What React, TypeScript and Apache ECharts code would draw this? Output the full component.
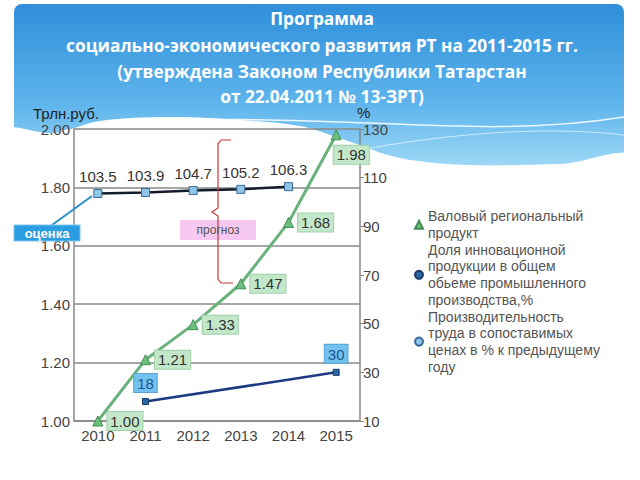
import React, { useEffect, useRef } from "react";
import * as echarts from "echarts";

const titleLines = [
  "Программа",
  "социально-экономического развития РТ на 2011-2015 гг.",
  "(утверждена Законом Республики Татарстан",
  "от 22.04.2011 № 13-ЗРТ)",
];

const categories = ["2010", "2011", "2012", "2013", "2014", "2015"];
const grpValues = [1.0, 1.21, 1.33, 1.47, 1.68, 1.98];
const innovationShare = [null, 18, null, null, null, 30];
const productivity = [103.5, 103.9, 104.7, 105.2, 106.3, null];
const rightTicks = [10, 30, 50, 70, 90, 110, 130];

const seriesNames = [
  "Валовый региональный продукт",
  "Доля инновационной продукции в общем обьеме промышленного производства,%",
  "Производительность труда в сопоставимых ценах в % к предыдущему году",
];
const legendLines = [
  ["Валовый региональный", "продукт"],
  ["Доля инновационной", "продукции в общем", "обьеме промышленного", "производства,%"],
  ["Производительность", "труда в сопоставимых", "ценах в % к предыдущему", "году"],
];

const FONT = "Liberation Sans";

export default function App() {
  const ref = useRef<HTMLDivElement>(null);
  useEffect(() => {
    if (!ref.current) return;
    const chart = echarts.init(ref.current, null, { renderer: "svg" });
    const titleY = [18, 45, 71, 96];
    const titleTexts = titleLines.map((t, i) => ({
      type: "text",
      z: 50,
      x: 322,
      y: titleY[i],
      style: {
        text: t,
        fill: "#ffffff",
        fontFamily: "Open Sans",
        fontWeight: "bold",
        fontSize: 17.3,
        align: "center",
        verticalAlign: "middle",
      },
    }));
    const option: any = {
      animation: false,
      textStyle: { fontFamily: FONT },
      grid: { left: 74, right: 280, top: 129, bottom: 59, containLabel: false },
      legend: {
        orient: "vertical",
        left: 409,
        top: 203,
        itemGap: 0,
        itemWidth: 8,
        itemHeight: 8,
        data: [
          { name: seriesNames[0], icon: "triangle" },
          { name: seriesNames[1], icon: "circle" },
          { name: seriesNames[2], icon: "circle" },
        ],
        formatter: (name: string) => legendLines[seriesNames.indexOf(name)].join("\n"),
        textStyle: { fontSize: 14, lineHeight: 16.7, color: "#555", fontFamily: FONT },
      },
      xAxis: {
        type: "category",
        data: categories,
        boundaryGap: true,
        axisLine: { show: true, lineStyle: { color: "#888", width: 1.5 } },
        axisTick: { show: false },
        axisLabel: { fontSize: 15, color: "#444", margin: 7, fontFamily: FONT },
      },
      yAxis: [
        {
          type: "value",
          min: 1,
          max: 2,
          interval: 0.2,
          axisLine: { show: true, lineStyle: { color: "#888", width: 1.5 } },
          axisTick: { show: false },
          axisLabel: {
            fontSize: 15,
            color: "#444",
            margin: 4,
            formatter: (v: number) => v.toFixed(2),
            fontFamily: FONT,
          },
          splitLine: { show: true, lineStyle: { color: "#888", width: 1.5 } },
        },
        {
          type: "value",
          min: 10,
          max: 130,
          position: "right",
          axisLine: { show: true, lineStyle: { color: "#888", width: 1.5 } },
          axisTick: { show: true, length: 4, customValues: rightTicks, lineStyle: { color: "#888" } },
          axisLabel: {
            fontSize: 15,
            color: "#444",
            margin: 3,
            customValues: rightTicks,
            fontFamily: FONT,
          },
          splitLine: { show: false },
        },
      ],
      series: [
        {
          name: seriesNames[0],
          type: "line",
          yAxisIndex: 0,
          data: grpValues.map((v, i) =>
            i === grpValues.length - 1 ? { value: v, label: { offset: [-12, 20] } } : v
          ),
          symbol: "triangle",
          symbolSize: 10,
          itemStyle: { color: "#6cc07c", borderColor: "#3f8f55", borderWidth: 1 },
          lineStyle: { color: "#6ab27c", width: 3 },
          label: {
            show: true,
            position: "right",
            distance: 4,
            formatter: (p: any) => Number(p.value).toFixed(2),
            fontSize: 15,
            color: "#333",
            backgroundColor: "#c3e8c9",
            borderColor: "#9fd0a8",
            borderWidth: 1,
            padding: [2, 3, 1, 3],
            fontFamily: FONT,
          },
          z: 3,
        },
        {
          name: seriesNames[1],
          type: "line",
          yAxisIndex: 1,
          data: innovationShare,
          connectNulls: true,
          symbol: "rect",
          symbolSize: 6,
          itemStyle: { color: "#2a6aa2", borderColor: "#1a3a6a", borderWidth: 1 },
          lineStyle: { color: "#1c3a82", width: 2.5 },
          label: {
            show: true,
            position: "top",
            distance: 6,
            fontSize: 15,
            color: "#1f5590",
            backgroundColor: "#72c2f0",
            borderColor: "#58a6d6",
            borderWidth: 1,
            padding: [2, 3, 1, 3],
            fontFamily: FONT,
          },
          z: 4,
        },
        {
          name: seriesNames[2],
          type: "line",
          yAxisIndex: 1,
          data: productivity,
          symbol: "rect",
          symbolSize: 8,
          itemStyle: { color: "#8fc6e8", borderColor: "#3a6a9a", borderWidth: 1 },
          lineStyle: { color: "#141c2a", width: 2.5 },
          label: {
            show: true,
            position: "top",
            distance: 5,
            fontSize: 15,
            color: "#333",
            formatter: (p: any) => Number(p.value).toFixed(1),
            fontFamily: FONT,
          },
          z: 4,
        },
      ],
      graphic: [
        {
          type: "rect",
          z: -10,
          shape: { x: 14, y: 4, width: 610, height: 168, r: [8, 8, 0, 0] },
          style: {
            fill: new echarts.graphic.LinearGradient(0, 0, 0, 1, [
              { offset: 0, color: "#2f8fda" },
              { offset: 0.6, color: "#5fb5ec" },
              { offset: 1, color: "#a4dbf7" },
            ]),
          },
        },
        {
          type: "polygon",
          z: -9,
          shape: {
            points: [
              [0, 134],
              [55, 133],
              [100, 121],
              [170, 117],
              [240, 120],
              [300, 126],
              [345, 140],
              [400, 158],
              [470, 165],
              [560, 164],
              [640, 162],
              [640, 480],
              [0, 480],
            ],
            smooth: 0.35,
          },
          style: { fill: "#ffffff" },
        },
        {
          type: "bezierCurve",
          z: -8,
          shape: { x1: 60, y1: 131, x2: 624, y2: 117, cpx1: 300, cpy1: 100, cpx2: 450, cpy2: 145 },
          style: { stroke: "rgba(255,255,255,0.85)", lineWidth: 1.5, fill: null },
        },
        {
          type: "bezierCurve",
          z: -8,
          shape: { x1: 360, y1: 150, x2: 624, y2: 135, cpx1: 440, cpy1: 135, cpx2: 540, cpy2: 125 },
          style: { stroke: "rgba(255,255,255,0.6)", lineWidth: 1, fill: null },
        },
        ...titleTexts,
        {
          type: "text",
          z: 100,
          x: 33,
          y: 113,
          style: { text: "Трлн.руб.", fontSize: 15, fill: "#222", fontFamily: FONT, verticalAlign: "middle" },
        },
        {
          type: "text",
          z: 100,
          x: 357,
          y: 112,
          style: { text: "%", fontSize: 15, fill: "#222", fontFamily: FONT, verticalAlign: "middle" },
        },
        {
          type: "line",
          z: 100,
          shape: { x1: 52, y1: 225, x2: 92, y2: 196 },
          style: { stroke: "#2a8ec8", lineWidth: 2 },
        },
        {
          type: "rect",
          z: 100,
          shape: { x: 14, y: 225, width: 66, height: 16 },
          style: { fill: "#2a9ee0", stroke: "#7ec4ee", lineWidth: 1 },
        },
        {
          type: "text",
          z: 101,
          x: 47,
          y: 233,
          style: {
            text: "оценка",
            fontSize: 13,
            fontWeight: "bold",
            fill: "#ffffff",
            fontFamily: FONT,
            align: "center",
            verticalAlign: "middle",
          },
        },
        {
          type: "rect",
          z: 100,
          shape: { x: 180, y: 220, width: 76, height: 20 },
          style: { fill: "#f7c9f2" },
        },
        {
          type: "text",
          z: 101,
          x: 218,
          y: 230,
          style: {
            text: "прогноз",
            fontSize: 12,
            fill: "#555",
            fontFamily: FONT,
            align: "center",
            verticalAlign: "middle",
          },
        },
        {
          type: "polyline",
          z: 100,
          shape: {
            points: [
              [231, 140],
              [221, 140],
              [218, 144],
              [218, 208],
              [212, 212],
              [218, 216],
              [218, 279],
              [221, 283],
              [233, 283],
            ],
          },
          style: { stroke: "#c23a3a", lineWidth: 1.2, fill: null },
        },
      ],
    };
    chart.setOption(option);
    return () => chart.dispose();
  }, []);
  return (
    <div
      ref={ref}
      style={{ position: "fixed", left: 0, top: 0, width: 640, height: 480, background: "#fff" }}
    />
  );
}
